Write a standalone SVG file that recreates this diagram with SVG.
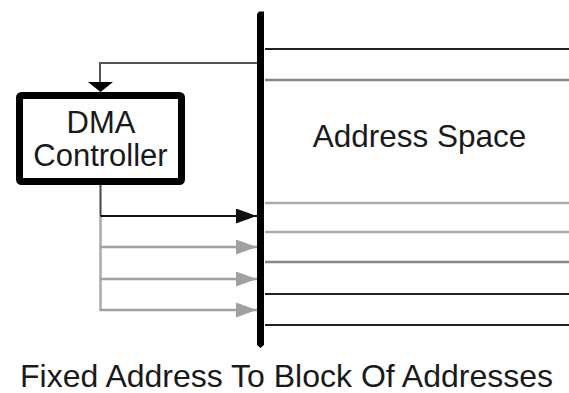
<svg xmlns="http://www.w3.org/2000/svg" width="569" height="393" viewBox="0 0 569 393">
<style>
  text { font-family: "Liberation Sans", Arial, sans-serif; fill: #1a1a1a; text-anchor: middle; }
  .lbl { font-size: 31px; }
  .cap { font-size: 32px; }
  .dark { stroke: #222; stroke-width: 2; fill: none; }
  .mid { stroke: #888; stroke-width: 2.5; fill: none; }
  .gray { stroke: #aaa; stroke-width: 2.5; fill: none; }
</style>
<defs>
  <marker id="ahBlack" markerWidth="21" markerHeight="15" refX="21" refY="7.5" orient="auto" markerUnits="userSpaceOnUse">
    <path d="M0,0 L21,7.5 L0,15 Z" fill="#111"/>
  </marker>
  <marker id="ahGray" markerWidth="21" markerHeight="15" refX="21" refY="7.5" orient="auto" markerUnits="userSpaceOnUse">
    <path d="M0,0 L21,7.5 L0,15 Z" fill="#a0a0a0"/>
  </marker>
</defs>
<rect width="569" height="393" fill="#fff"/>

<g id="address-space">
  <line x1="265" y1="49" x2="569" y2="49" class="dark"/>
  <line x1="265" y1="80" x2="569" y2="80" class="mid"/>
  <line x1="265" y1="203" x2="569" y2="203" class="gray"/>
  <line x1="265" y1="232" x2="569" y2="232" class="gray"/>
  <line x1="265" y1="262" x2="569" y2="262" class="mid"/>
  <line x1="265" y1="294" x2="569" y2="294" class="dark"/>
  <line x1="265" y1="325" x2="569" y2="325" class="dark"/>
  <text x="419.5" y="147" class="lbl" style="font-size:31.5px">Address Space</text>
</g>

<g id="bus">
  <path d="M257,14 L259,11.5 L264,11.5 L264,345 L260.5,348 L257,345 Z" fill="#000"/>
</g>

<g id="dma-controller">
  <rect x="19.5" y="95.5" width="162" height="86" rx="2" fill="#fff" stroke="#000" stroke-width="7"/>
  <text x="101" y="133" class="lbl">DMA</text>
  <text x="100.5" y="166" class="lbl">Controller</text>
</g>

<g id="connectors">
  <polyline points="257,63 100,63 100,83" fill="none" stroke="#555" stroke-width="2"/>
  <path d="M88,82 L113,82 L100.5,92 Z" fill="#000"/>
  <line x1="100.5" y1="185" x2="100.5" y2="216" stroke="#444" stroke-width="2"/>
  <polyline points="100.5,216 100.5,310" class="gray" stroke-width="2"/>
  <line x1="100.5" y1="216" x2="257" y2="216" stroke="#111" stroke-width="2" marker-end="url(#ahBlack)"/>
  <line x1="100.5" y1="247" x2="257" y2="247" stroke="#a0a0a0" stroke-width="2.5" marker-end="url(#ahGray)"/>
  <line x1="100.5" y1="279" x2="257" y2="279" stroke="#a0a0a0" stroke-width="2.5" marker-end="url(#ahGray)"/>
  <line x1="99.5" y1="310" x2="257" y2="310" stroke="#a0a0a0" stroke-width="2.5" marker-end="url(#ahGray)"/>
</g>

<text x="286.5" y="387" class="cap">Fixed Address To Block Of Addresses</text>
</svg>
